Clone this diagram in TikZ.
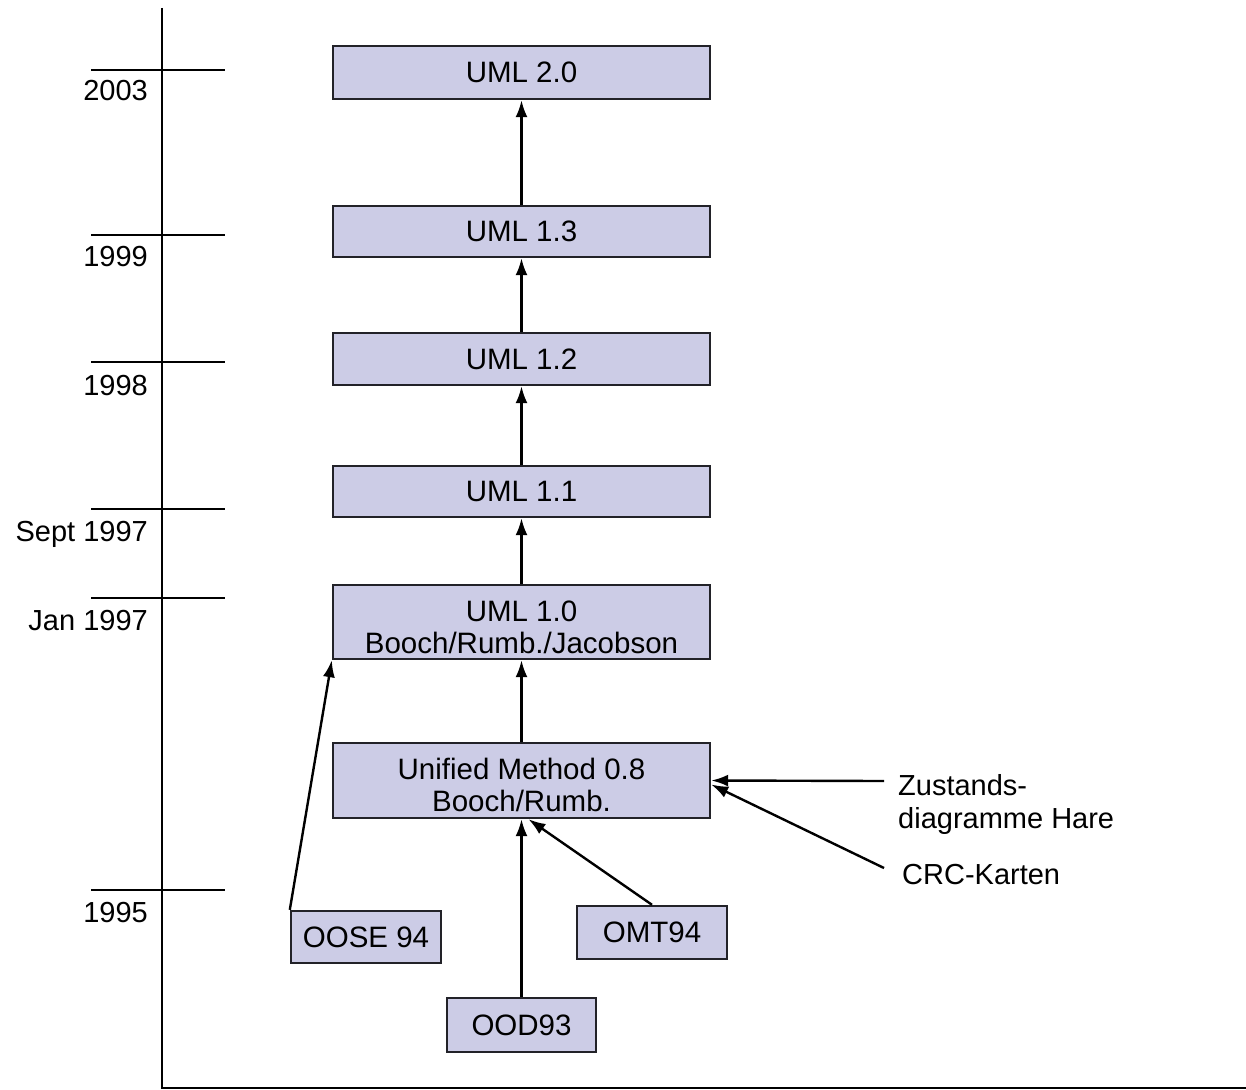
\documentclass[tikz,border=0pt]{standalone}
\usepackage{fontspec}
\setmainfont{Liberation Sans}
\usetikzlibrary{arrows.meta}
\definecolor{boxfill}{RGB}{204,204,230}
\definecolor{boxline}{RGB}{34,34,40}
\begin{document}
\begin{tikzpicture}[x=1pt,y=-1pt,
  umlbox/.style={draw=boxline, fill=boxfill, line width=2.4pt, inner sep=0pt,
    align=center, font=\fontsize{29.5}{32}\selectfont},
  twoline/.style={text height=63pt},
  yearlbl/.style={anchor=base east, inner sep=0pt, font=\fontsize{29}{32}\selectfont},
  sidelbl/.style={anchor=base west, inner sep=0pt, align=left, font=\fontsize{29}{33}\selectfont},
  tick/.style={line width=2.4pt},
  flow/.style={line width=2.4pt, -{Latex[length=17pt,width=12pt]}}]
\useasboundingbox (0,0) rectangle (1246,1089);

% time axis
\coordinate (axtop) at (162,8);
\coordinate (axcorner) at (162,1088);
\coordinate (axend) at (1246,1088);
\draw[line width=2.4pt] (axtop) -- (axcorner) -- (axend);

% year ticks and labels
\foreach \yy/\base/\lbl [count=\i] in {70/101/2003, 235/266/1999, 362/395/1998,
    509/541/Sept 1997, 598/630/Jan 1997, 890/922/1995} {
  \coordinate (t\i a) at (91,\yy);
  \coordinate (t\i b) at (225,\yy);
  \draw[tick] (t\i a) -- (t\i b);
  \node[yearlbl] (y\i) at (148,\base) {\lbl};
}

% versions
\node[umlbox, minimum width=377pt, minimum height=53pt] (u20) at (521.5,72.5) {UML 2.0};
\node[umlbox, minimum width=377pt, minimum height=51pt] (u13) at (521.5,231.5) {UML 1.3};
\node[umlbox, minimum width=377pt, minimum height=52pt] (u12) at (521.5,359) {UML 1.2};
\node[umlbox, minimum width=377pt, minimum height=51pt] (u11) at (521.5,491.5) {UML 1.1};
\node[umlbox, twoline, minimum width=377pt, minimum height=74pt] (u10) at (521.5,622) {UML 1.0\\Booch/Rumb./Jacobson};
\node[umlbox, twoline, minimum width=377pt, minimum height=75pt] (um) at (521.5,780.5) {Unified Method 0.8\\Booch/Rumb.};

% predecessor methods
\node[umlbox, minimum width=150pt, minimum height=52pt] (oose) at (366,937) {OOSE 94};
\node[umlbox, minimum width=150pt, minimum height=53pt] (omt) at (652,932.5) {OMT94};
\node[umlbox, minimum width=149pt, minimum height=54pt] (ood) at (521.5,1025) {OOD93};

% side influences
\node[sidelbl] (hare) at (898,828) {Zustands-\\diagramme Hare};
\node[sidelbl] (crc) at (902,884) {CRC-Karten};
\coordinate (harefrom) at (884,781);
\coordinate (crcfrom) at (884,868);

% evolution arrows
\draw[flow] (u13) -- (u20);
\draw[flow] (u12) -- (u13);
\draw[flow] (u11) -- (u12);
\draw[flow] (u10) -- (u11);
\draw[flow] (um) -- (u10);
\draw[flow] (ood) -- (um);
\draw[flow] (omt.north) -- ([xshift=7pt]um.south);
\draw[flow] (oose.north west) -- (u10.south west);
\draw[flow] (harefrom) -- (um.east);
\draw[flow] (crcfrom) -- ([yshift=-4pt]um.east);
\end{tikzpicture}
\end{document}
